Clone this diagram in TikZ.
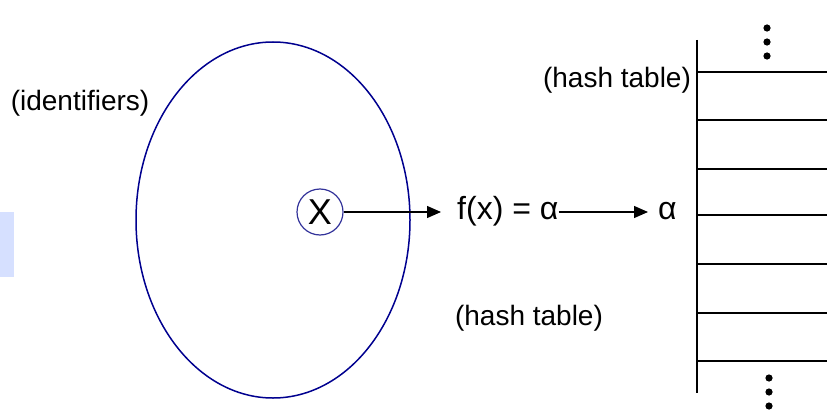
\documentclass[tikz,border=0pt]{standalone}
\usepackage{fontspec}
\setmainfont{Liberation Sans}
\usetikzlibrary{arrows.meta}
\definecolor{setblue}{HTML}{00008F}
\definecolor{keyblue}{HTML}{33339A}
\definecolor{tabblue}{HTML}{D6E0FF}
\tikzset{
  lbl/.style={inner sep=0pt, font=\fontsize{28}{32}\selectfont},
  maplbl/.style={inner sep=0pt, font=\fontsize{32}{36}\selectfont},
  keynode/.style={circle, draw=keyblue, line width=1.2pt, minimum size=46pt,
                  inner sep=0pt, font=\fontsize{36}{40}\selectfont},
  hedge/.style={line width=1.3pt, -{Triangle[length=14pt, width=12pt]}},
  tline/.style={line width=1.6pt}
}
\begin{document}
\begin{tikzpicture}[x=1pt, y=-1pt]
  \useasboundingbox (0,0) rectangle (827,412);
  \fill[tabblue] (0,212) rectangle (14,277);
  \draw[setblue, line width=1.5pt] (273,220) ellipse [x radius=137, y radius=178];
  \node[lbl] (ids) at (80,103) {(identifiers)};
  \node[keynode] (key) at (320,212) {X};
  \node[maplbl, anchor=base west] (fx) at (457,219) {f(x) = α};
  \node[maplbl, anchor=base west] (al) at (658,219) {α};
  \draw[hedge] (key) -- ([xshift=-16pt]fx.west |- key);
  \draw[hedge] (fx.east |- key) -- ([xshift=-10pt]al.west |- key);
  \node[lbl] (ht1) at (617,80) {(hash table)};
  \node[lbl] (ht2) at (529,318) {(hash table)};
  % the table
  \draw[tline] (697,40) -- (697,393);
  \foreach \y in {72,120,169,215,264,313,361}
    \draw[tline] (697,\y) -- (827,\y);
  \foreach \y in {28,42,56}
    \fill (767,\y) circle (3.6);
  \foreach \y in {378,392,406}
    \fill (769,\y) circle (3.6);
\end{tikzpicture}
\end{document}
